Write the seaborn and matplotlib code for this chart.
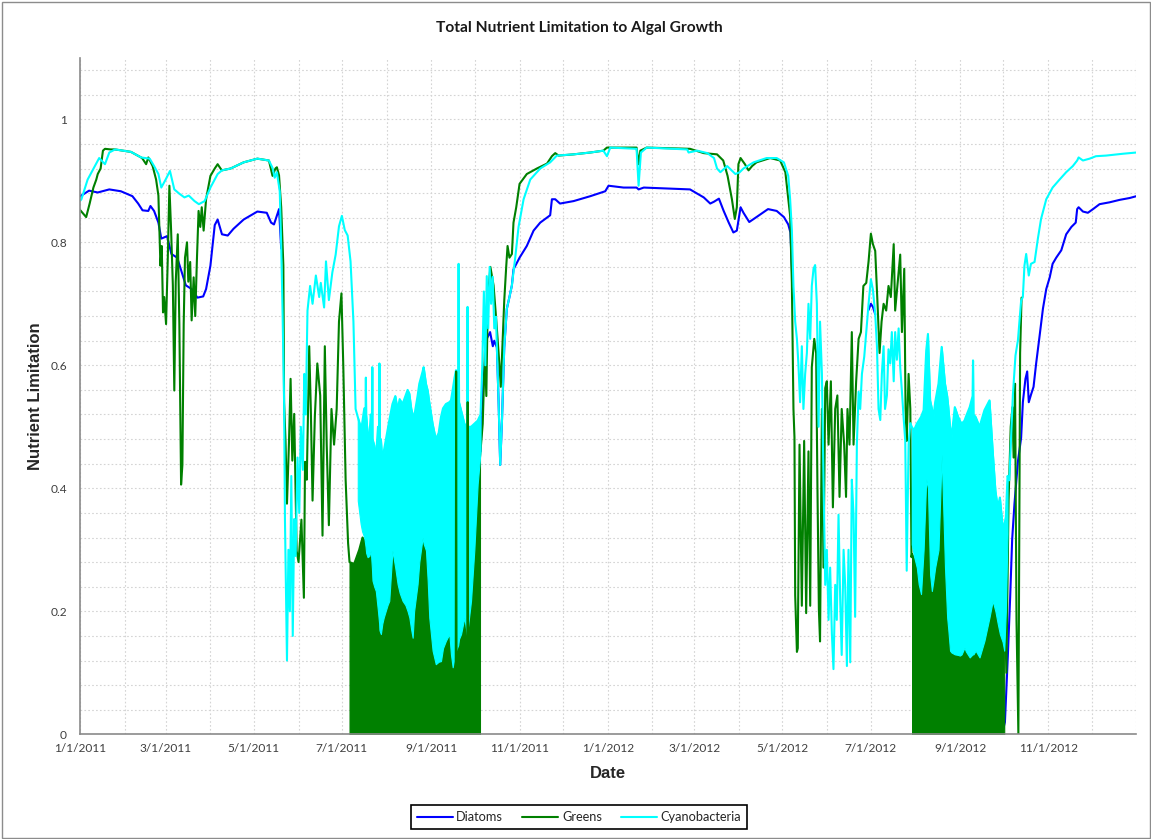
import numpy as np
import pandas as pd
import matplotlib
matplotlib.use("Agg")
import matplotlib.pyplot as plt
import matplotlib.dates as mdates
from matplotlib.ticker import FixedLocator, MultipleLocator, FuncFormatter
from matplotlib.lines import Line2D
from matplotlib.patches import Rectangle
import seaborn as sns

sns.set_style("white")
plt.rcParams["font.family"] = ["Lato", "DejaVu Sans"]

# ---------------------------------------------------------------- data
START = "2011-01-01"
END = "2013-01-01"
SERIES = ["Diatoms", "Greens", "Cyanobacteria"]
COLORS = ["#0000FF", "#008000", "#00FFFF"]
X_TICK_LABEL_DATES = ["2011-01-01", "2011-03-01", "2011-05-01", "2011-07-01",
                      "2011-09-01", "2011-11-01", "2012-01-01", "2012-03-01",
                      "2012-05-01", "2012-07-01", "2012-09-01", "2012-11-01"]

# Diatoms (days since 1/1/2011, value); visible stretches
DIATOMS_A_DAY = [0, 6, 12, 20, 28, 36, 40, 43, 47, 48.5,
                 51, 54, 56, 60, 63, 67, 73, 77, 81, 85,
                 87, 90, 93, 95, 98, 102, 106, 113, 122.5, 129,
                 132, 134, 137.5, 139]
DIATOMS_A_VAL = [0.875, 0.884, 0.881, 0.886, 0.883, 0.875, 0.863, 0.852, 0.851, 0.859,
                 0.851, 0.832, 0.806, 0.81, 0.781, 0.775, 0.73, 0.724, 0.71, 0.712,
                 0.724, 0.762, 0.828, 0.837, 0.813, 0.811, 0.822, 0.837, 0.85, 0.848,
                 0.832, 0.829, 0.854, 0.79]
DIATOMS_B_DAY = [277, 279, 281.3, 283.6, 285.5, 286.5, 288.3, 289.5, 290.6, 291.8,
                 293.4, 295.2, 297, 298.7, 299.8, 304, 309, 313.7, 318.3, 325.2,
                 326.4, 328.7, 332, 341.4, 353, 363.3, 365.6, 376, 385, 386.4,
                 390, 422, 431.5, 436, 438.6, 442, 445.3, 448.8, 452, 454.4,
                 457, 459, 463, 468, 476, 482, 487, 490, 491.5, 493]
DIATOMS_B_VAL = [0.46, 0.574, 0.643, 0.654, 0.631, 0.64, 0.629, 0.54, 0.438, 0.508,
                 0.629, 0.692, 0.711, 0.73, 0.756, 0.775, 0.794, 0.819, 0.832, 0.844,
                 0.87, 0.87, 0.863, 0.867, 0.875, 0.883, 0.892, 0.889, 0.889, 0.886,
                 0.889, 0.886, 0.873, 0.863, 0.866, 0.871, 0.851, 0.832, 0.816, 0.819,
                 0.857, 0.848, 0.833, 0.841, 0.854, 0.851, 0.841, 0.829, 0.816, 0.73]
DIATOMS_C_DAY = [545.6, 547.2, 548.6, 550.2]
DIATOMS_C_VAL = [0.69, 0.70, 0.695, 0.683]
DIATOMS_D_DAY = [638, 640, 642, 643.6, 645, 646.6, 649, 651.2, 652.4, 654.2,
                 655.4, 656.5, 658, 659.8, 661.6, 664, 666.3, 668.6, 671, 673,
                 675.5, 679, 682.4, 686, 689, 690, 691, 694, 697.4, 701,
                 705.5, 712.4, 719.4, 726.3, 731]
DIATOMS_D_VAL = [0.0, 0.02, 0.127, 0.222, 0.317, 0.375, 0.444, 0.482, 0.54, 0.578,
                 0.59, 0.54, 0.552, 0.565, 0.603, 0.648, 0.692, 0.724, 0.743, 0.765,
                 0.775, 0.787, 0.813, 0.825, 0.832, 0.854, 0.857, 0.85, 0.848, 0.854,
                 0.862, 0.865, 0.869, 0.872, 0.875]

# Greens
GREEN_A_DAY = [0, 0.7, 4, 6.4, 9, 11, 12, 14, 15.6, 17,
               21, 24, 35, 42, 43, 45.5, 47, 50, 52.4, 54,
               55.4, 56.3, 57.2, 58, 59.3, 60.5, 61.6, 62.8, 64, 65,
               66, 67.4, 68.5, 69.7, 70.6, 71.5, 72.4, 73.8, 74.7, 76,
               77, 78.4, 79.5, 80.7, 81.8, 83, 84, 85.3, 87, 90,
               93, 95, 97, 98, 104, 113, 122.5, 130.5, 133, 135,
               136, 137.5, 139, 140.5, 141, 142, 143, 144.4, 145.5, 146.7,
               148, 149.7, 151, 153, 154.7, 155.5, 156.7, 158.4, 159.5, 160.7,
               162.3, 164, 166, 167.6, 169.2, 170.5, 172, 173.8, 175.6, 177.4,
               179, 180.7, 182, 183.6, 185.3]
GREEN_A_VAL = [0.852, 0.85, 0.841, 0.863, 0.889, 0.902, 0.911, 0.92, 0.949, 0.952,
               0.951, 0.951, 0.947, 0.938, 0.936, 0.927, 0.938, 0.924, 0.902, 0.876,
               0.762, 0.794, 0.686, 0.711, 0.667, 0.775, 0.892, 0.819, 0.73, 0.559,
               0.736, 0.813, 0.667, 0.406, 0.438, 0.667, 0.775, 0.8, 0.736, 0.768,
               0.673, 0.743, 0.68, 0.775, 0.851, 0.825, 0.857, 0.819, 0.87, 0.908,
               0.92, 0.927, 0.92, 0.917, 0.92, 0.93, 0.936, 0.933, 0.908, 0.92,
               0.922, 0.909, 0.857, 0.762, 0.54, 0.476, 0.375, 0.476, 0.578, 0.445,
               0.521, 0.298, 0.28, 0.349, 0.222, 0.443, 0.414, 0.631, 0.529, 0.38,
               0.517, 0.603, 0.551, 0.323, 0.631, 0.471, 0.34, 0.529, 0.471, 0.529,
               0.671, 0.717, 0.597, 0.414, 0.311]
# dense summer 2011 stretch: values swing from ~0 up to this upper envelope
GREEN_B1_DAY = [186.3, 189.5, 193, 195.3, 197.6, 200, 203.4, 207, 209, 212.6,
                216, 219.6, 223, 226.5, 228.8, 232, 235.7, 238, 240.4, 243.8,
                247.3, 252, 254, 256.5, 260, 262, 265.8, 268, 270.4, 272.7,
                275, 276.6]
GREEN_B1_HI = [0.28, 0.277, 0.30, 0.32, 0.31, 0.31, 0.27, 0.2, 0.21, 0.24,
               0.32, 0.27, 0.25, 0.23, 0.2, 0.23, 0.32, 0.33, 0.28, 0.17,
               0.15, 0.17, 0.19, 0.16, 0.17, 0.18, 0.22, 0.19, 0.25, 0.32,
               0.43, 0.45]
GREEN_SPIKE_DAY = [259.8, 260.1, 260.4, 267.8, 268.1, 268.4]
GREEN_SPIKE_VAL = [0.05, 0.59, 0.05, 0.05, 0.54, 0.05]
GREEN_C_DAY = [278.5, 280, 281, 282, 283.8, 285.4, 286, 287.7, 290, 291,
               292.5, 293.4, 294.8, 295.7, 297, 298.7, 299.8, 301.7, 304, 309,
               316, 323, 326.4, 328.7, 331, 341.4, 353, 362, 364.5, 385,
               386.4, 387.6, 392, 422, 431.5, 440.7, 445, 448, 451, 453,
               454.4, 455.5, 457, 460, 462.5, 465, 468, 477.5, 484.4, 488,
               490, 491.3, 492.5, 493.6, 494.3, 494.8, 496, 496.6, 497.8, 499.4,
               501, 502.4, 504, 505.2, 506.3, 508, 509.3, 510.2, 511.2, 512,
               513.3, 514.4, 515.6, 516.7, 517.9, 519.5, 520.9, 522.5, 524, 525.5,
               527, 528.7, 530, 531, 532.4, 534, 535.2, 537, 538.7, 540.3,
               542, 544, 545.6, 547.2, 548.6, 550.2, 551.8, 553.2, 554.6, 556,
               557.8, 559.4, 561, 563, 564, 565.7, 567.5, 568.7, 570.3, 571.2,
               572, 573.3, 574.5, 575.3]
GREEN_C_VAL = [0.505, 0.624, 0.55, 0.706, 0.76, 0.738, 0.73, 0.679, 0.603, 0.565,
               0.654, 0.705, 0.762, 0.794, 0.775, 0.781, 0.832, 0.857, 0.895, 0.911,
               0.92, 0.928, 0.94, 0.945, 0.941, 0.943, 0.946, 0.949, 0.954, 0.954,
               0.927, 0.949, 0.954, 0.952, 0.945, 0.943, 0.933, 0.908, 0.87, 0.838,
               0.857, 0.927, 0.937, 0.927, 0.917, 0.924, 0.93, 0.937, 0.933, 0.914,
               0.87, 0.843, 0.734, 0.529, 0.483, 0.226, 0.134, 0.14, 0.471, 0.209,
               0.477, 0.197, 0.46, 0.209, 0.597, 0.643, 0.62, 0.403, 0.203, 0.151,
               0.529, 0.271, 0.563, 0.574, 0.471, 0.574, 0.369, 0.529, 0.551, 0.386,
               0.529, 0.471, 0.386, 0.529, 0.471, 0.654, 0.471, 0.574, 0.643, 0.654,
               0.729, 0.734, 0.769, 0.814, 0.797, 0.786, 0.7, 0.62, 0.671, 0.7,
               0.689, 0.729, 0.711, 0.797, 0.689, 0.734, 0.78, 0.654, 0.757, 0.529,
               0.477, 0.586, 0.529, 0.288]
GREEN_B2_DAY = [575.7, 578, 580.3, 582.5, 583.7, 585.5, 587, 588.7, 590, 591.7,
                594, 596.2, 597.8, 599.6, 601.5, 603, 605.3, 607.6, 610, 613.3,
                616.7, 620, 623.6, 627, 629.3, 631, 633.8, 636, 638.4, 639.5]
GREEN_B2_HI = [0.293, 0.28, 0.25, 0.26, 0.305, 0.418, 0.407, 0.271, 0.24, 0.28,
               0.31, 0.461, 0.33, 0.22, 0.16, 0.14, 0.15, 0.135, 0.135, 0.145,
               0.13, 0.14, 0.14, 0.17, 0.195, 0.233, 0.212, 0.19, 0.165, 0.15]
GREEN_D_DAY = [640, 641, 642.5, 644, 645.2, 646, 647, 648, 649.3, 650.5, 651.5]
GREEN_D_VAL = [0.2, 0.1, 0.38, 0.5, 0.532, 0.45, 0.57, 0.185, 0.0, 0.62, 0.71]

# Cyanobacteria
CYAN_A_DAY = [0, 0.7, 5, 10, 13, 17, 20, 24, 35, 42,
              48, 51, 54, 56, 59, 62, 65, 68.5, 72, 75,
              79, 82, 86, 90, 95, 98, 104, 113, 122.5, 130.5,
              133, 134.5, 136, 138, 139, 140, 141, 141.6, 143, 144,
              145, 146, 147, 148, 149, 150.3, 151.5, 152.6, 154, 155,
              156, 157.2, 159, 160.7, 163, 165.3, 166.4, 168.7, 170, 172,
              174.4, 176.7, 179, 181, 183, 185, 187, 189, 190.5]
CYAN_A_VAL = [0.868, 0.87, 0.902, 0.924, 0.937, 0.927, 0.946, 0.951, 0.947, 0.938,
              0.936, 0.924, 0.911, 0.889, 0.902, 0.916, 0.886, 0.879, 0.873, 0.876,
              0.867, 0.862, 0.867, 0.889, 0.911, 0.917, 0.92, 0.93, 0.936, 0.933,
              0.921, 0.905, 0.914, 0.883, 0.794, 0.68, 0.54, 0.349, 0.12, 0.3,
              0.2, 0.42, 0.16, 0.35, 0.29, 0.45, 0.36, 0.5, 0.43, 0.586,
              0.52, 0.689, 0.729, 0.7, 0.746, 0.711, 0.734, 0.694, 0.769, 0.706,
              0.751, 0.78, 0.826, 0.843, 0.82, 0.811, 0.769, 0.671, 0.529]
# dense summer 2011 stretch: envelope of the daily swings
CYAN_B1_DAY = [192, 194, 195, 196.5, 197.4, 197.6, 197.8, 198.8, 200, 201,
               201.8, 202, 202.2, 203.4, 204.5, 206, 206.8, 207, 207.2, 208,
               209, 210, 212.6, 213.8, 216, 218, 219.6, 221, 223, 225,
               226.5, 227.7, 229, 230, 231, 233.4, 234.6, 236.9, 237.6, 239.2,
               240.4, 241.5, 243.8, 246, 248, 249.6, 251, 253, 255.4, 256.5,
               257.7, 259, 260, 261.5, 261.8, 262.1, 263.5, 265.8, 267.7, 268,
               268.3, 270.4, 272.7, 275, 277]
CYAN_B1_HI = [0.516, 0.50, 0.505, 0.53, 0.52, 0.58, 0.52, 0.49, 0.483, 0.52,
              0.50, 0.597, 0.48, 0.47, 0.445, 0.5, 0.48, 0.603, 0.47, 0.48,
              0.445, 0.46, 0.494, 0.51, 0.537, 0.55, 0.527, 0.545, 0.537, 0.55,
              0.56, 0.554, 0.53, 0.52, 0.516, 0.55, 0.57, 0.59, 0.597, 0.57,
              0.559, 0.54, 0.505, 0.48, 0.49, 0.516, 0.53, 0.537, 0.54, 0.543,
              0.56, 0.58, 0.592, 0.56, 0.765, 0.54, 0.527, 0.505, 0.5, 0.695,
              0.5, 0.5, 0.505, 0.51, 0.52]
CYAN_B1_LO = [0.38, 0.342, 0.33, 0.32, 0.305, 0.30, 0.295, 0.288, 0.29, 0.299,
              0.27, 0.26, 0.25, 0.24, 0.233, 0.2, 0.18, 0.17, 0.168, 0.163,
              0.18, 0.19, 0.21, 0.217, 0.299, 0.27, 0.244, 0.23, 0.217, 0.21,
              0.2, 0.19, 0.17, 0.157, 0.2, 0.244, 0.28, 0.32, 0.31, 0.299,
              0.25, 0.19, 0.136, 0.114, 0.118, 0.119, 0.14, 0.152, 0.163, 0.13,
              0.109, 0.125, 0.136, 0.145, 0.15, 0.155, 0.163, 0.19, 0.16, 0.17,
              0.175, 0.217, 0.3, 0.407, 0.46]
CYAN_C_DAY = [278.2, 279.3, 280.3, 281.3, 282.3, 283.3, 284.3, 285.4, 286.5, 287.7,
              288.3, 289.5, 290.6, 291.8, 293.4, 295.2, 297, 298.7, 301, 303.3,
              306.8, 311.4, 318.3, 325.2, 329.8, 341.4, 353, 362, 364.5, 366.8,
              385, 386.4, 388, 392, 420, 421, 427, 434, 438.6, 440.7,
              443, 447.7, 453.4, 456.4, 459, 466, 475, 482, 487, 490,
              491.3, 492.5, 493.6, 494.8, 496, 497, 498.2, 499.4, 500.5, 501.7,
              502.9, 504, 505.2, 506.3, 507.5, 508.6, 509.8, 511, 512, 513.3,
              514.4, 515.6, 516.7, 517.9, 519, 520.2, 521.3, 522.5, 523.6, 524.8,
              526, 527, 528.3, 529.4, 530.6, 531.7, 532.9, 534, 535.2, 536.3,
              537.5, 538.7, 539.8, 541, 542.6, 544, 545.6, 547.2, 548.6, 550.2,
              551.4, 552.5, 553.7, 554.8, 556, 557, 558.3, 559.4, 560.6, 561.7,
              563, 564, 565.2, 566.4, 567.5, 568.7, 569.8, 571, 572, 573.3,
              574.5]
CYAN_C_VAL = [0.6, 0.72, 0.6, 0.745, 0.66, 0.76, 0.7, 0.744, 0.66, 0.679,
              0.629, 0.54, 0.438, 0.508, 0.629, 0.692, 0.711, 0.73, 0.775, 0.825,
              0.87, 0.902, 0.92, 0.93, 0.941, 0.943, 0.946, 0.949, 0.94, 0.954,
              0.952, 0.892, 0.946, 0.954, 0.951, 0.946, 0.949, 0.945, 0.937, 0.92,
              0.914, 0.924, 0.911, 0.914, 0.92, 0.93, 0.937, 0.937, 0.93, 0.908,
              0.87, 0.82, 0.729, 0.671, 0.643, 0.603, 0.54, 0.631, 0.529, 0.586,
              0.62, 0.7, 0.643, 0.729, 0.757, 0.763, 0.7, 0.5, 0.671, 0.586,
              0.414, 0.243, 0.3, 0.186, 0.271, 0.163, 0.106, 0.243, 0.186, 0.357,
              0.214, 0.129, 0.3, 0.243, 0.111, 0.3, 0.117, 0.414, 0.357, 0.191,
              0.471, 0.557, 0.529, 0.586, 0.614, 0.654, 0.7, 0.74, 0.723, 0.683,
              0.631, 0.529, 0.511, 0.586, 0.631, 0.529, 0.551, 0.626, 0.603, 0.654,
              0.574, 0.654, 0.609, 0.66, 0.597, 0.557, 0.517, 0.477, 0.266, 0.471,
              0.506]
CYAN_B2_DAY = [575.5, 577, 579, 580.3, 581.9, 583.7, 585.5, 586.7, 588.2, 589.4,
               590.5, 591.7, 594, 596.2, 598.5, 600, 600.8, 602, 603, 605.3,
               607.6, 608.8, 610, 612, 612.9, 615.6, 617.6, 617.9, 618.2, 619.7,
               622.4, 625.8, 629.3, 631.5, 633.4, 635, 636.5, 638.4, 639.5, 640.6,
               641.8]
CYAN_B2_HI = [0.5, 0.494, 0.505, 0.51, 0.516, 0.527, 0.624, 0.651, 0.543, 0.53,
              0.516, 0.54, 0.57, 0.63, 0.57, 0.55, 0.532, 0.5, 0.483, 0.532,
              0.516, 0.51, 0.505, 0.51, 0.516, 0.532, 0.55, 0.608, 0.52, 0.516,
              0.5, 0.527, 0.543, 0.461, 0.396, 0.369, 0.385, 0.337, 0.34, 0.353,
              0.42]
CYAN_B2_LO = [0.309, 0.29, 0.271, 0.244, 0.228, 0.3, 0.415, 0.40, 0.26, 0.233,
              0.25, 0.271, 0.3, 0.455, 0.271, 0.19, 0.17, 0.136, 0.133, 0.13,
              0.129, 0.128, 0.13, 0.141, 0.135, 0.125, 0.13, 0.13, 0.13, 0.136,
              0.125, 0.152, 0.19, 0.217, 0.2, 0.18, 0.163, 0.15, 0.136, 0.2,
              0.326]
CYAN_D_DAY = [643, 645.5, 647.3, 649, 651.2, 652.4, 653.5, 654.7, 656.5, 658,
              660.5, 662.8, 665, 668.6, 673, 677.8, 682.4, 687, 690, 691,
              694, 698.6, 703, 710, 721.7, 731]
CYAN_D_VAL = [0.413, 0.552, 0.616, 0.641, 0.705, 0.711, 0.762, 0.781, 0.746, 0.765,
              0.768, 0.806, 0.838, 0.87, 0.889, 0.902, 0.914, 0.924, 0.933, 0.938,
              0.933, 0.936, 0.94, 0.941, 0.944, 0.946]

# ---------------------------------------------------------------- helpers
BASE = mdates.date2num(pd.Timestamp(START))


def to_num(days):
    return BASE + np.asarray(days, dtype=float)


W, H = 1151, 839
fig = plt.figure(figsize=(W / 100, H / 100), dpi=100)
fig.patch.set_facecolor("white")
ax = fig.add_axes([80.4 / W, (H - 734.3) / H, (1136.4 - 80.4) / W, (734.3 - 57.8) / H])
ax.set_facecolor("white")

blue, green, cyan = COLORS
LW = 1.5


def draw_line(days, vals, color, z):
    sns.lineplot(x=to_num(days), y=np.asarray(vals, dtype=float), ax=ax,
                 color=color, linewidth=LW, estimator=None, sort=False,
                 errorbar=None, zorder=z, legend=False)


# Diatoms
for d, v in [(DIATOMS_A_DAY, DIATOMS_A_VAL), (DIATOMS_B_DAY, DIATOMS_B_VAL),
             (DIATOMS_C_DAY, DIATOMS_C_VAL), (DIATOMS_D_DAY, DIATOMS_D_VAL)]:
    draw_line(d, v, blue, 2.0)

# Greens
green_days = GREEN_A_DAY + GREEN_B1_DAY + GREEN_C_DAY + GREEN_B2_DAY + GREEN_D_DAY
green_vals = GREEN_A_VAL + GREEN_B1_HI + GREEN_C_VAL + GREEN_B2_HI + GREEN_D_VAL
for d, hi in [(GREEN_B1_DAY, GREEN_B1_HI), (GREEN_B2_DAY, GREEN_B2_HI)]:
    ax.fill_between(to_num(d), 0, hi, color=green, linewidth=0.8, zorder=2.5)
draw_line(green_days, green_vals, green, 2.6)

# Cyanobacteria
cyan_days = CYAN_A_DAY + CYAN_B1_DAY + CYAN_C_DAY + CYAN_B2_DAY + CYAN_D_DAY
cyan_vals = CYAN_A_VAL + CYAN_B1_HI + CYAN_C_VAL + CYAN_B2_HI + CYAN_D_VAL
for d, lo, hi in [(CYAN_B1_DAY, CYAN_B1_LO, CYAN_B1_HI),
                  (CYAN_B2_DAY, CYAN_B2_LO, CYAN_B2_HI)]:
    ax.fill_between(to_num(d), lo, hi, color=cyan, linewidth=0.8, zorder=3.0)
draw_line(cyan_days, cyan_vals, cyan, 3.1)

# thin green excursions that show through the cyan band
draw_line(GREEN_SPIKE_DAY, GREEN_SPIKE_VAL, green, 3.2)

# ---------------------------------------------------------------- axes styling
ax.set_xlim(to_num([0])[0], mdates.date2num(pd.Timestamp(END)))
ax.set_ylim(0, 1.1)
ax.set_xlabel("")
ax.set_ylabel("")

major_x = mdates.date2num(pd.to_datetime(X_TICK_LABEL_DATES))
ax.xaxis.set_major_locator(FixedLocator(major_x))
ax.xaxis.set_minor_locator(mdates.MonthLocator())


def fmt_date(x, pos):
    d = mdates.num2date(x)
    return f"{d.month}/{d.day}/{d.year}"


ax.xaxis.set_major_formatter(FuncFormatter(fmt_date))
ax.yaxis.set_major_locator(MultipleLocator(0.2))
ax.yaxis.set_minor_locator(MultipleLocator(0.04))
ax.yaxis.set_major_formatter(FuncFormatter(lambda v, p: f"{v:g}"))

axis_gray = "#8a8a8a"
grid_kw = dict(color="#d4d4d4", linestyle=(0, (1.5, 2.0)), linewidth=0.8)
ax.grid(True, which="both", axis="both", **grid_kw)
ax.set_axisbelow(True)

for s in ["top", "right"]:
    ax.spines[s].set_visible(False)
for s in ["left", "bottom"]:
    ax.spines[s].set_color(axis_gray)
    ax.spines[s].set_linewidth(1.2)
    ax.spines[s].set_zorder(5)

ax.tick_params(axis="x", which="both", direction="inout", length=5, width=1,
               color=axis_gray, labelsize=8.6, labelcolor="#3f3f3f", pad=4)
ax.tick_params(axis="y", which="both", direction="out", length=3.6, width=1,
               color=axis_gray, labelsize=8.6, labelcolor="#3f3f3f", pad=6)

# ---------------------------------------------------------------- texts
fig.text(579 / W, 1 - 28 / H, "Total Nutrient Limitation to Algal Growth",
         ha="center", va="center", fontsize=11.2, fontweight="bold", color="#1a1a1a")
fig.text(608 / W, 1 - 774 / H, "Date", ha="center", va="center",
         fontsize=12, fontweight="bold", family=["Liberation Sans", "DejaVu Sans"])
fig.text(36 / W, 1 - 396 / H, "Nutrient Limitation", ha="center", va="center",
         rotation=90, fontsize=12, fontweight="bold",
         family=["Liberation Sans", "DejaVu Sans"])

handles = [Line2D([], [], color=c, linewidth=LW) for c in COLORS]
leg = fig.legend(handles, SERIES, loc="center", bbox_to_anchor=(579 / W, 1 - 817 / H),
                 ncol=3, frameon=True, fancybox=False, edgecolor="black",
                 framealpha=1, fontsize=9.2, handlelength=2.8, handletextpad=0.3,
                 columnspacing=1.5, borderpad=0.45)
leg.get_frame().set_linewidth(1.2)
for t in leg.get_texts():
    t.set_color("#262626")

fig.add_artist(Rectangle((1.5 / W, 1.5 / H), 1 - 3 / W, 1 - 3 / H, transform=fig.transFigure,
                         fill=False, edgecolor="#8c8c8c", linewidth=1.0))

fig.savefig("out.png", dpi=100, facecolor="white")
